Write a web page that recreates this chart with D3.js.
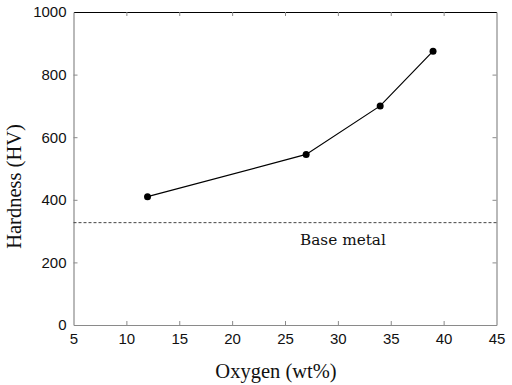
<!DOCTYPE html>
<html><head><meta charset="utf-8">
<script src="https://cdn.jsdelivr.net/npm/d3@7"></script>
<style>body{margin:0;background:#fff}svg{display:block}</style>
</head><body>
<svg id="c" width="512" height="385"></svg>
<script>
const oxygen = [12, 27, 34, 39];
const hardness = [410, 545, 700, 875];
const baseMetal = 327;
const xTicks = [5, 10, 15, 20, 25, 30, 35, 40, 45];
const yTicks = [0, 200, 400, 600, 800, 1000];

const svg = d3.select("#c");
const L = 73.5, R = 496.5, T = 12, B = 325;
const x = d3.scaleLinear().domain([5, 45]).range([L, R]);
const y = d3.scaleLinear().domain([0, 1000]).range([B, T]);
const tickFont = "Liberation Sans, Arial, sans-serif";
const serif = "Liberation Serif, Times New Roman, serif";
const gray = "#8a8a8a";
const fmt = d3.format("d");

// axes
const gB = svg.append("g").attr("transform", `translate(0,${B})`)
  .call(d3.axisBottom(x).tickValues(xTicks).tickFormat(fmt).tickSizeInner(-4).tickSizeOuter(0).tickPadding(8));
const gT = svg.append("g").attr("transform", `translate(0,${T})`)
  .call(d3.axisTop(x).tickValues(xTicks).tickSizeInner(-4).tickSizeOuter(0).tickFormat(""));
const gL = svg.append("g").attr("transform", `translate(${L},0)`)
  .call(d3.axisLeft(y).tickValues(yTicks).tickFormat(fmt).tickSizeInner(-4).tickSizeOuter(0).tickPadding(7));
const gR = svg.append("g").attr("transform", `translate(${R},0)`)
  .call(d3.axisRight(y).tickValues(yTicks).tickSizeInner(-4).tickSizeOuter(0).tickFormat(""));
[gB, gT, gL, gR].forEach(g => {
  g.selectAll("path.domain").attr("stroke", gray).attr("stroke-width", 1.2);
  g.selectAll(".tick line").attr("stroke", gray);
  g.selectAll("text").attr("font-family", tickFont).attr("font-size", 15).attr("fill", "#111");
});
gT.select("path.domain").attr("stroke", "#000");
gB.selectAll(".tick").filter(d => d === 5 || d === 45).select("line").remove();
gL.selectAll(".tick").filter(d => d === 0 || d === 1000).select("line").remove();
gR.selectAll(".tick").filter(d => d === 0 || d === 1000).select("line").remove();
gT.selectAll(".tick").filter(d => d === 5 || d === 45).select("line").remove();

// base metal line
svg.append("line").attr("x1", L).attr("x2", R).attr("y1", y(baseMetal)).attr("y2", y(baseMetal))
  .attr("stroke", "#444").attr("stroke-width", 1).attr("stroke-dasharray", "3,2");
svg.append("text").attr("x", 300).attr("y", 245)
  .attr("font-family", "DejaVu Serif, serif").attr("font-size", 15.3).attr("fill", "#111").text("Base metal");

// data line
const pts = oxygen.map((o, i) => [o, hardness[i]]);
svg.append("path").datum(pts)
  .attr("d", d3.line().x(d => x(d[0])).y(d => y(d[1])))
  .attr("fill", "none").attr("stroke", "#000").attr("stroke-width", 1.2);
svg.selectAll("circle.p").data(pts).enter().append("circle")
  .attr("cx", d => x(d[0])).attr("cy", d => y(d[1])).attr("r", 3.5).attr("fill", "#000");

// titles
svg.append("text").attr("x", 276).attr("y", 377.5).attr("text-anchor", "middle")
  .attr("font-family", serif).attr("font-size", 20.5).attr("fill", "#111").text("Oxygen (wt%)");
svg.append("text").attr("transform", `translate(21,186.5) rotate(-90)`)
  .attr("text-anchor", "middle")
  .attr("font-family", serif).attr("font-size", 20.5).attr("fill", "#111").text("Hardness (HV)");
</script>
</body></html>
